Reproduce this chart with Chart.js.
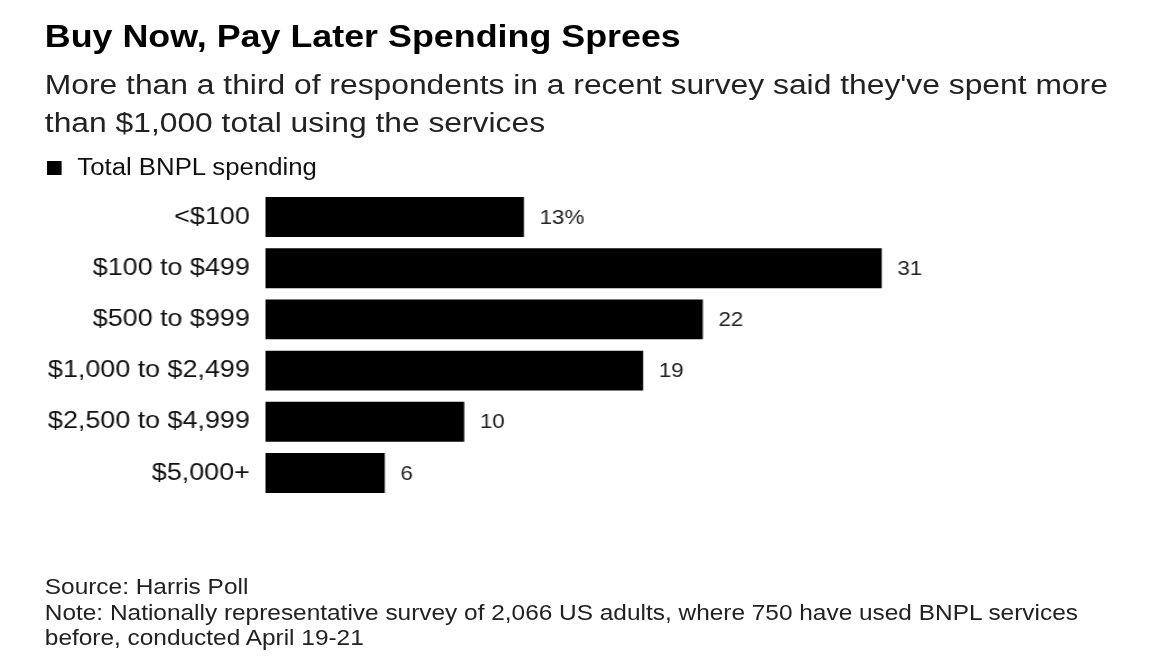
<!DOCTYPE html>
<html>
<head>
<meta charset="utf-8">
<script src="https://cdn.jsdelivr.net/npm/chart.js@4"></script>
<style>
  body { margin: 0; background: #fff; width: 1156px; height: 666px; overflow: hidden;
         font-family: "Liberation Sans", Arial, sans-serif; color: #000; }
  /* the original graphic is a little wider than its fonts, so the page is stretched sideways */
  #page { position: relative; width: 1032px; height: 666px; transform: scaleX(1.12); transform-origin: 0 0; }
  .txt { position: absolute; left: 40px; white-space: nowrap; }
  #title { top: 18px; font-size: 32px; font-weight: bold; }
  #subtitle { top: 65px; font-size: 28.4px; line-height: 38px; color: #222; }
  #legend { top: 154px; left: 42px; font-size: 23px; color: #111; }
  #legend span { display: inline-block; width: 13px; height: 14px; background: #000; margin-right: 14px; }
  #footer { top: 574px; font-size: 21.8px; line-height: 25.5px; color: #222; }
  #wrap { position: absolute; left: 0; top: 171px; width: 1032px; height: 348px; }
</style>
</head>
<body>
<div id="page">
<div class="txt" id="title">Buy Now, Pay Later Spending Sprees</div>
<div class="txt" id="subtitle">More than a third of respondents in a recent survey said they've spent more<br>than $1,000 total using the services</div>
<div class="txt" id="legend"><span></span>Total BNPL spending</div>
<div id="wrap"><canvas id="chart"></canvas></div>
<div class="txt" id="footer">Source: Harris Poll<br>Note: Nationally representative survey of 2,066 US adults, where 750 have used BNPL services<br>before, conducted April 19-21</div>
</div>

<script>
// Chart data
const categories = ['<$100', '$100 to $499', '$500 to $999', '$1,000 to $2,499', '$2,500 to $4,999', '$5,000+'];
const shares = [13, 31, 22, 19, 10, 6];
const valueLabels = ['13%', '31', '22', '19', '10', '6'];

// Writes the value next to the end of each bar
const barValues = {
    id: 'barValues',
    afterDatasetsDraw(chart) {
        const ctx = chart.ctx;
        const meta = chart.getDatasetMeta(0);
        ctx.save();
        ctx.font = '20px "Liberation Sans", Arial, sans-serif';
        ctx.fillStyle = '#222';
        ctx.textBaseline = 'middle';
        meta.data.forEach((bar, i) => {
            ctx.fillText(valueLabels[i], bar.x + 14, bar.y + 1);
        });
        ctx.restore();
    }
};

new Chart(document.getElementById('chart'), {
    type: 'bar',
    data: {
        labels: categories,
        datasets: [{
            label: 'Total BNPL spending',
            data: shares,
            backgroundColor: '#000',
            categoryPercentage: 1,
            barPercentage: 0.78
        }]
    },
    options: {
        indexAxis: 'y',
        responsive: true,
        maintainAspectRatio: false,
        animation: false,
        layout: { padding: { left: 0, right: 85, top: 0, bottom: 0 } },
        scales: {
            x: {
                min: 0,
                max: 40,
                display: false
            },
            y: {
                grid: { display: false },
                border: { display: false },
                ticks: {
                    color: '#111',
                    padding: 6,
                    font: { family: '"Liberation Sans", Arial, sans-serif', size: 24 }
                },
                afterFit(scale) { scale.width = 237; }
            }
        },
        plugins: {
            legend: { display: false },
            tooltip: { enabled: false }
        }
    },
    plugins: [barValues]
});
</script>
</body>
</html>
